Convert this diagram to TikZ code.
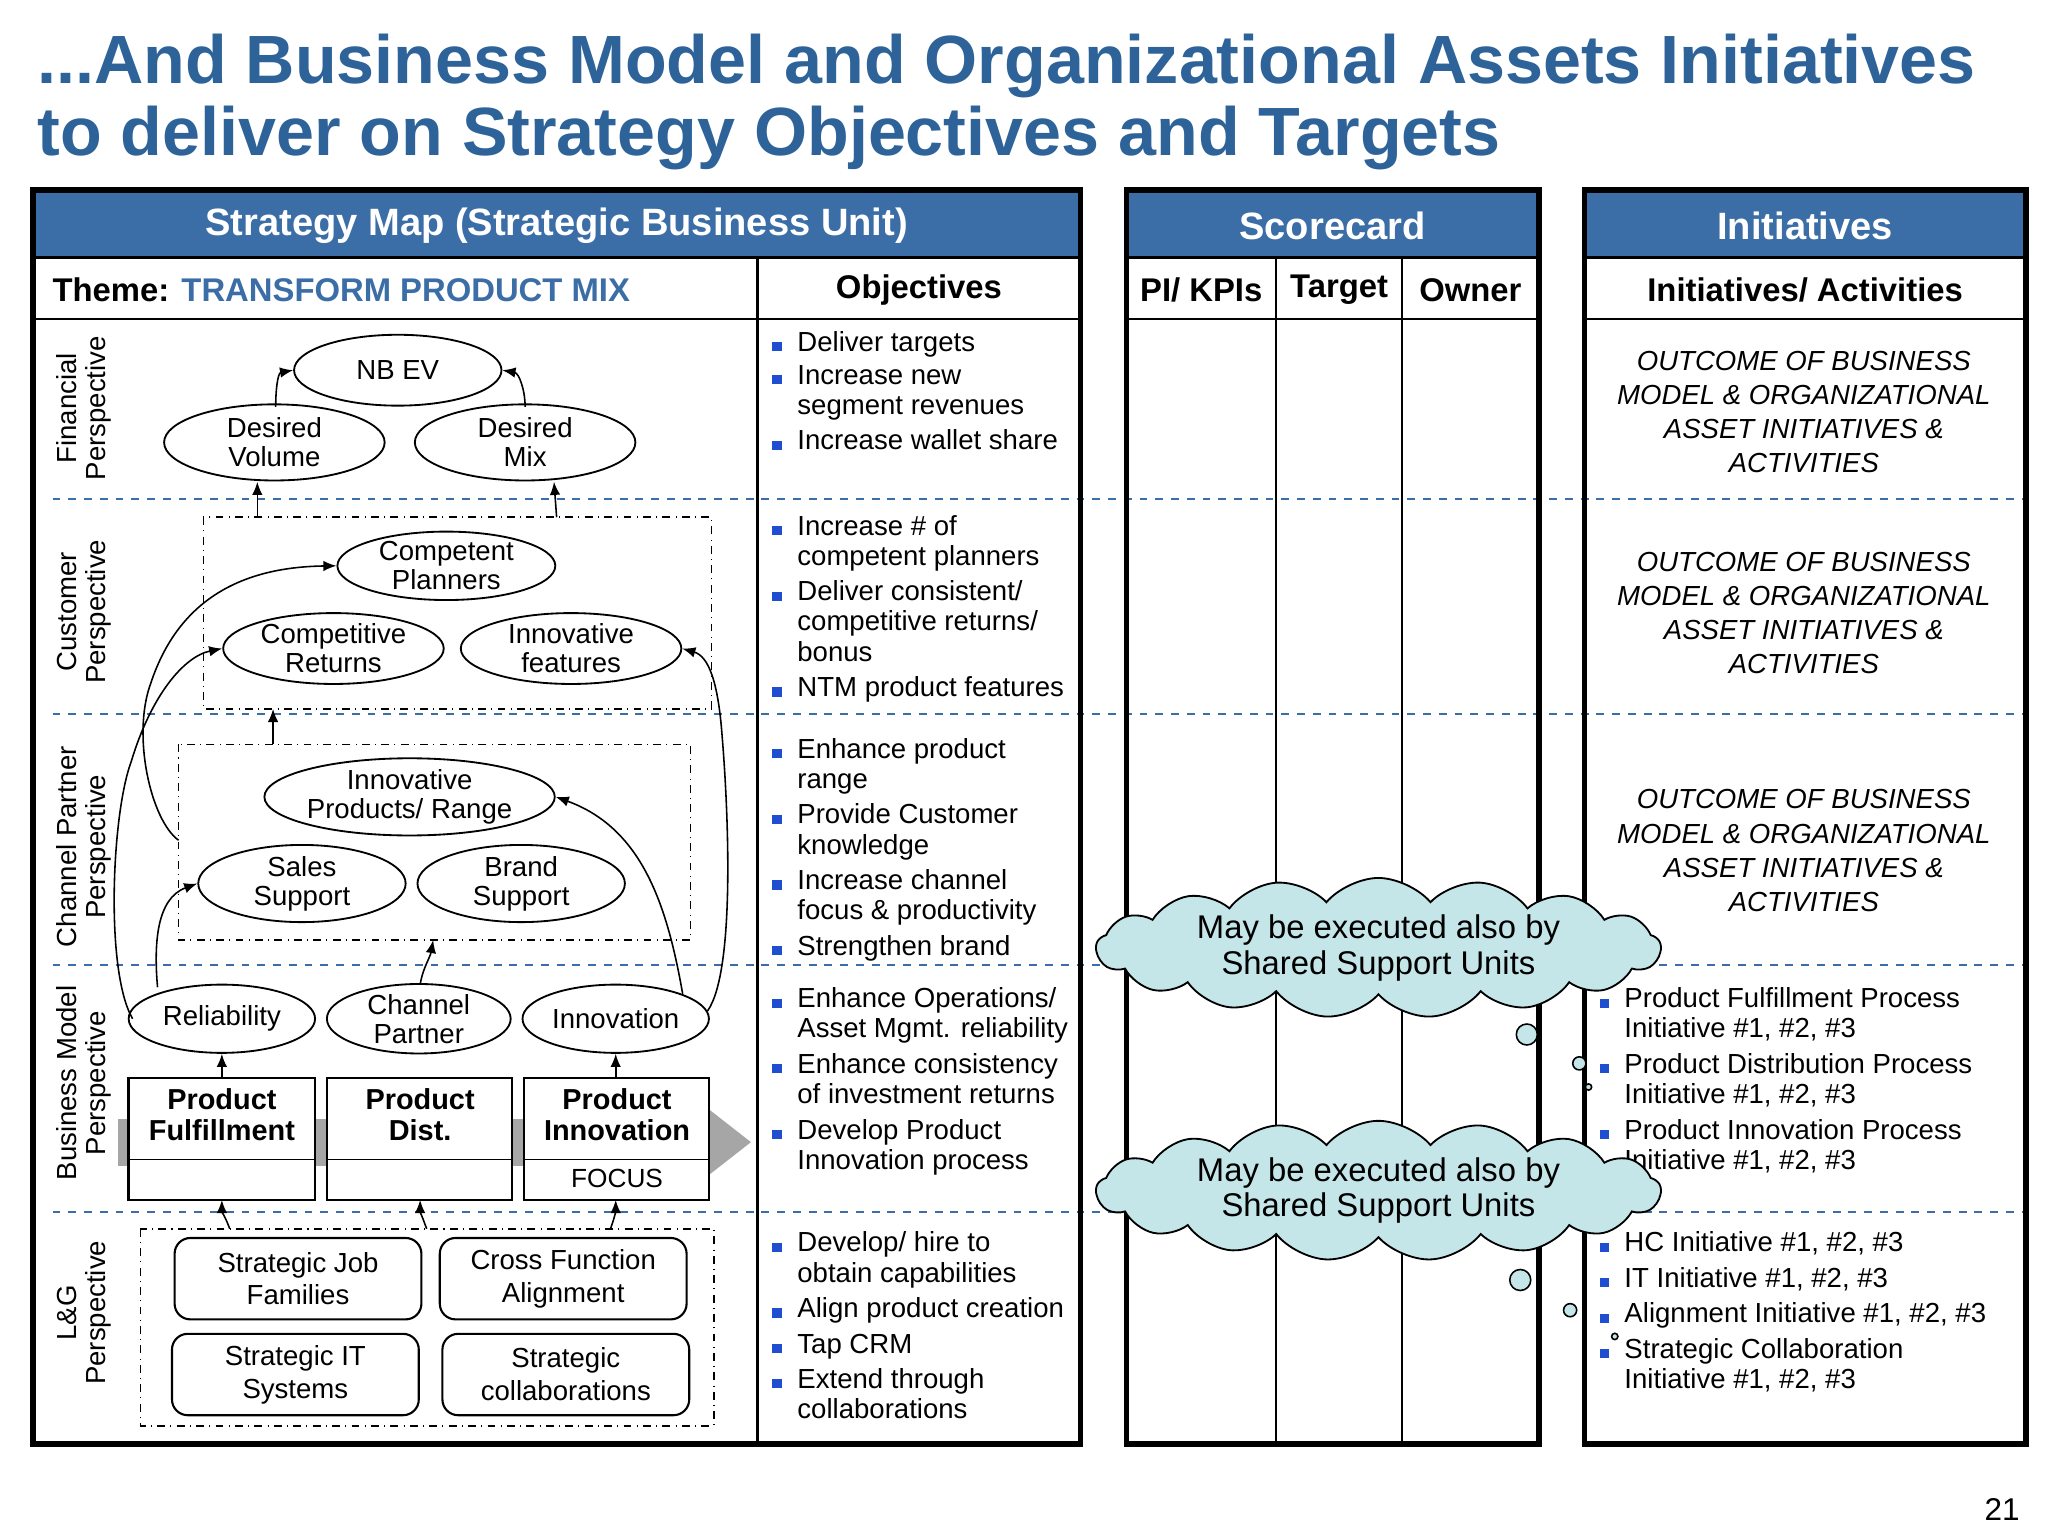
\documentclass[tikz,border=0pt]{standalone}
\usepackage{fontspec}
\setmainfont{Liberation Sans}
\usetikzlibrary{shapes.geometric,shapes.symbols,arrows.meta}
\definecolor{ttl}{HTML}{2E6399}
\definecolor{hdr}{HTML}{3B6EA6}
\definecolor{bul}{HTML}{1F4FD0}
\definecolor{cld}{HTML}{C5E6E9}
\begin{document}
\begin{tikzpicture}[x=0.5pt,y=-0.5pt,
 el/.style={draw,ellipse,line width=0.7pt,inner sep=0pt,align=center,font=\fontsize{10.5}{11}\selectfont},
 lg/.style={draw,rounded corners=6pt,line width=0.8pt,align=center,font=\fontsize{10.5}{12.5}\selectfont,minimum width=94pt,minimum height=31pt},
 pb/.style={draw,line width=1pt,fill=white},
 ar/.style={-{Latex[length=5pt,width=4pt]},line width=0.6pt},
 dd/.style={dash dot,line width=0.6pt},
 sep/.style={dashed,draw=hdr,line width=0.6pt},
 hd/.style={font=\bfseries\fontsize{14.5}{16}\selectfont,text=white},
 sh/.style={font=\bfseries\fontsize{12.5}{14}\selectfont},
 obj/.style={anchor=north west,align=left,font=\fontsize{10.5}{11.5}\selectfont,inner sep=0pt},
 ini/.style={align=center,font=\itshape\fontsize{10.5}{13}\selectfont},
 side/.style={rotate=90,align=center,font=\fontsize{10.5}{11}\selectfont},
 cl/.style={cloud,cloud puffs=17,cloud puff arc=100,aspect=6,draw,fill=cld,line width=0.7pt,minimum width=215pt,minimum height=30pt,align=center,inner sep=0pt,font=\fontsize{12.5}{13.5}\selectfont}]
\useasboundingbox (0,0) rectangle (1560,1170);
\fill[white] (0,0) rectangle (1560,1170);
% title
\node[anchor=west,text=ttl,font=\bfseries\fontsize{26}{28}\selectfont,inner sep=0pt] (t1) at (28,50) {...And Business Model and Organizational Assets Initiatives};
\node[anchor=west,text=ttl,font=\bfseries\fontsize{26}{28}\selectfont,inner sep=0pt] (t2) at (28,105) {to deliver on Strategy Objectives and Targets};
% headers
\fill[hdr] (25,145) rectangle (823,196);
\fill[hdr] (858,145) rectangle (1172,196);
\fill[hdr] (1207,145) rectangle (1543,196);
\node[hd] (h1) at (424,172) {Strategy Map (Strategic Business Unit)};
\node[hd] (h2) at (1015,172) {Scorecard};
\node[hd] (h3) at (1375,172) {Initiatives};
% separators
\foreach \y in {380,544,735,923}{\draw[sep] (40,\y) -- (1543,\y);}
% frames
\draw[line width=1pt] (25,196) -- (823,196) (25,243) -- (823,243) (577,196) -- (577,1100);
\draw[line width=1pt] (858,196) -- (1172,196) (858,243) -- (1172,243) (972,196) -- (972,1100) (1068,196) -- (1068,1100);
\draw[line width=1pt] (1207,196) -- (1543,196) (1207,243) -- (1543,243);
\draw[line width=2.2pt] (25,145) rectangle (823,1100);
\draw[line width=2.2pt] (858,145) rectangle (1172,1100);
\draw[line width=2.2pt] (1207,145) rectangle (1543,1100);
\node[anchor=west,sh] (th) at (33,221) {Theme: \textcolor{hdr}{TRANSFORM PRODUCT MIX}};
\node[sh] (ob) at (700,221) {Objectives};
\node[sh] (k1) at (915,221) {PI/ KPIs};
\node[sh] (k2) at (1020,221) {Target};
\node[sh] (k3) at (1120,221) {Owner};
\node[sh] (k4) at (1375,221) {Initiatives/ Activities};
% side labels
\node[side] (s1) at (64,311) {Financial\\Perspective};
\node[side] (s2) at (64,466) {Customer\\Perspective};
\node[side] (s3) at (64,645) {Channel Partner\\Perspective};
\node[side] (s4) at (64,825) {Business Model\\Perspective};
\node[side] (s5) at (64,1000) {L\&G\\Perspective};
% dash-dot boxes
\draw[dd] (155,394) rectangle (542,540);
\draw[dd] (136,567) rectangle (526,716);
\draw[dd] (107,936) rectangle (544,1086);
\coordinate (cbT1) at (196,394); \coordinate (cbT2) at (424,394);
\coordinate (cbB) at (208,540); \coordinate (chT) at (208,567);
\coordinate (chB) at (330,716); \coordinate (chL) at (136,640);
% gray band
\fill[gray!70] (90,852) rectangle (540,888);
\fill[gray!70] (540,845) -- (572,870) -- (540,895) -- cycle;
% ellipses
\node[el,minimum width=79pt,minimum height=27pt] (nb) at (303,282) {NB EV};
\node[el,minimum width=84pt,minimum height=29pt] (dv) at (209,337) {Desired\\Volume};
\node[el,minimum width=84pt,minimum height=29pt] (dm) at (400,337) {Desired\\Mix};
\node[el,minimum width=83pt,minimum height=25pt] (cp) at (340,431) {Competent\\Planners};
\node[el,minimum width=84pt,minimum height=27pt] (cr) at (254,494) {Competitive\\Returns};
\node[el,minimum width=84pt,minimum height=27pt] (if) at (435,494) {Innovative\\features};
\node[el,minimum width=84pt,minimum height=28pt] (ip) at (312,607) {Innovative\\Products/ Range};
\node[el,minimum width=79pt,minimum height=28pt] (ss) at (230,673) {Sales\\Support};
\node[el,minimum width=79pt,minimum height=28pt] (bs) at (397,673) {Brand\\Support};
\node[el,minimum width=71pt,minimum height=26pt] (re) at (169,776) {Reliability};
\node[el,minimum width=70pt,minimum height=26pt] (cpa) at (319,776) {Channel\\Partner};
\node[el,minimum width=71pt,minimum height=26pt] (in) at (469,776) {Innovation};
% product boxes
\draw[pb] (98,821) rectangle (240,914); \draw (98,883) -- (240,883);
\draw[pb] (249,821) rectangle (390,914); \draw (249,883) -- (390,883);
\draw[pb] (399,821) rectangle (540,914); \draw (399,883) -- (540,883);
\node[align=center,font=\bfseries\fontsize{11}{12}\selectfont] (pf) at (169,849) {Product\\Fulfillment};
\node[align=center,font=\bfseries\fontsize{11}{12}\selectfont] (pd) at (320,849) {Product\\Dist.};
\node[align=center,font=\bfseries\fontsize{11}{12}\selectfont] (pi) at (470,849) {Product\\Innovation};
\node[font=\fontsize{10}{11}\selectfont] (fo) at (470,898) {FOCUS};
\coordinate (pfT) at (169,821); \coordinate (piT) at (469,821);
\coordinate (pfB) at (169,914); \coordinate (pdB) at (320,914); \coordinate (piB) at (469,914);
\coordinate (l1) at (175,936); \coordinate (l2) at (325,936); \coordinate (l3) at (465,936);
% L&G boxes
\node[lg] (g1) at (227,974) {Strategic Job\\Families};
\node[lg] (g2) at (429,974) {Cross Function\\Alignment};
\node[lg] (g3) at (225,1047) {Strategic IT\\Systems};
\node[lg] (g4) at (431,1047) {Strategic\\collaborations};
% arrows
\draw[ar] (210,310) to[out=90,in=190] (nb.west);
\draw[ar] (400,310) to[out=90,in=-10] (nb.east);
\draw[ar] (cbT1) -- (196,367);
\draw[ar] (cbT2) -- (422,367);
\draw[ar] (chT) -- (cbB);
\draw[ar] (320,750) to[out=80,in=-100] (chB);
\draw[ar] (120,752) to[out=95,in=200] (ss.west);
\draw[ar] (101,776) .. controls (80,740) and (85,620) .. (100,580) .. controls (115,530) and (140,500) .. (cr.west);
\draw[ar] (chL) .. controls (115,625) and (100,560) .. (115,520) .. controls (135,460) and (180,432) .. (cp.west);
\draw[ar] (520,757) to[out=100,in=-20] (ip.east);
\draw[ar] (539,770) .. controls (560,740) and (555,620) .. (550,560) .. controls (547,520) and (540,500) .. (if.east);
\draw[ar] (pfT) -- (re.south);
\draw[ar] (piT) -- (in.south);
\draw[ar] (l1) to[out=110,in=-90] (pfB);
\draw[ar] (l2) to[out=110,in=-90] (pdB);
\draw[ar] (l3) to[out=70,in=-90] (piB);
% objectives
\def\bb{\textcolor{bul}{\rule{3.5pt}{3.5pt}}\hspace{6pt}}
\node[obj] (o1) at (588,252) {\bb Deliver targets\\[1pt]\bb Increase new\\\hspace*{9.5pt}segment revenues\\[2pt]\bb Increase wallet share};
\node[obj] (o2) at (588,392) {\bb Increase \# of\\\hspace*{9.5pt}competent planners\\[2pt]\bb Deliver consistent/\\\hspace*{9.5pt}competitive returns/\\\hspace*{9.5pt}bonus\\[2pt]\bb NTM product features};
\node[obj] (o3) at (588,562) {\bb Enhance product\\\hspace*{9.5pt}range\\[2pt]\bb Provide Customer\\\hspace*{9.5pt}knowledge\\[2pt]\bb Increase channel\\\hspace*{9.5pt}focus \& productivity\\[2pt]\bb Strengthen brand};
\node[obj] (o4) at (588,752) {\bb Enhance Operations/\\\hspace*{9.5pt}Asset Mgmt. reliability\\[2pt]\bb Enhance consistency\\\hspace*{9.5pt}of investment returns\\[2pt]\bb Develop Product\\\hspace*{9.5pt}Innovation process};
\node[obj] (o5) at (588,938) {\bb Develop/ hire to\\\hspace*{9.5pt}obtain capabilities\\[2pt]\bb Align product creation\\[2pt]\bb Tap CRM\\[2pt]\bb Extend through\\\hspace*{9.5pt}collaborations};
% initiatives
\node[ini] (i1) at (1374,314) {OUTCOME OF BUSINESS\\MODEL \& ORGANIZATIONAL\\ASSET INITIATIVES \&\\ACTIVITIES};
\node[ini] (i2) at (1374,467) {OUTCOME OF BUSINESS\\MODEL \& ORGANIZATIONAL\\ASSET INITIATIVES \&\\ACTIVITIES};
\node[ini] (i3) at (1374,648) {OUTCOME OF BUSINESS\\MODEL \& ORGANIZATIONAL\\ASSET INITIATIVES \&\\ACTIVITIES};
\node[obj] (i4) at (1218,752) {\bb Product Fulfillment Process\\\hspace*{9.5pt}Initiative \#1, \#2, \#3\\[2pt]\bb Product Distribution Process\\\hspace*{9.5pt}Initiative \#1, \#2, \#3\\[2pt]\bb Product Innovation Process\\\hspace*{9.5pt}Initiative \#1, \#2, \#3};
\node[obj] (i5) at (1218,938) {\bb HC Initiative \#1, \#2, \#3\\[2pt]\bb IT Initiative \#1, \#2, \#3\\[2pt]\bb Alignment Initiative \#1, \#2, \#3\\[2pt]\bb Strategic Collaboration\\\hspace*{9.5pt}Initiative \#1, \#2, \#3};
% clouds
\node[cl] (c1) at (1050,722) {May be executed also by\\Shared Support Units};
\node[cl] (c2) at (1050,907) {May be executed also by\\Shared Support Units};
\draw[fill=cld,line width=0.6pt] (1163,788) circle (4pt) (1203,810) circle (2.5pt) (1210,828) circle (1.2pt);
\draw[fill=cld,line width=0.6pt] (1158,975) circle (4pt) (1196,998) circle (2.5pt) (1230,1018) circle (1.2pt);
\node[font=\fontsize{12}{13}\selectfont] (pg) at (1525,1150) {21};
\end{tikzpicture}
\end{document}
